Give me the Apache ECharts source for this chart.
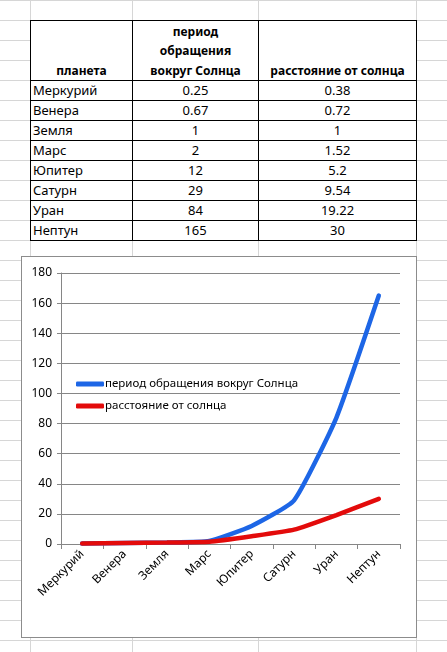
<!DOCTYPE html>
<html>
<head>
<meta charset="utf-8">
<script src="https://cdn.jsdelivr.net/npm/echarts@6/dist/echarts.min.js"></script>
<style>
  html, body { margin: 0; padding: 0; }
  body {
    width: 447px; height: 652px; position: relative; overflow: hidden;
    background-color: #fff;
    background-image: repeating-linear-gradient(to bottom, #d6d6d6 0, #d6d6d6 1px, transparent 1px, transparent 20px);
    font-family: "Noto Sans", sans-serif;
  }
  .vline { position: absolute; top: 0; width: 1px; height: 652px; background: #d6d6d6; }
  table {
    position: absolute; left: 30px; top: 20px;
    border-collapse: collapse; table-layout: fixed; background: #fff;
    font-size: 13px; color: #000;
  }
  td { border: 1px solid #000; padding: 0 2px; height: 19px; line-height: 15px; text-align: center; white-space: nowrap; }
  td.name { text-align: left; }
  thead td { font-weight: bold; font-size: 12px; height: 59px; line-height: 19.5px; vertical-align: bottom; padding-bottom: 0; }
  #chart {
    position: absolute; left: 21px; top: 256px; width: 396px; height: 382px;
    background: #fff; border: 1px solid #8c8c8c; box-sizing: border-box;
  }
</style>
</head>
<body>
<div class="vline" style="left:30px"></div>
<div class="vline" style="left:132px"></div>
<div class="vline" style="left:258px"></div>
<div class="vline" style="left:416px"></div>
<table id="tbl">
  <colgroup><col style="width:102px"><col style="width:126px"><col style="width:158px"></colgroup>
  <thead></thead>
  <tbody></tbody>
</table>
<div id="chart"></div>
<script>
  // данные
  let planets = ['Меркурий', 'Венера', 'Земля', 'Марс', 'Юпитер', 'Сатурн', 'Уран', 'Нептун'];
  let periodText = ['0.25', '0.67', '1', '2', '12', '29', '84', '165'];
  let distText = ['0.38', '0.72', '1', '1.52', '5.2', '9.54', '19.22', '30'];
  let period = [0.25, 0.67, 1, 2, 12, 29, 84, 165];
  let distance = [0.38, 0.72, 1, 1.52, 5.2, 9.54, 19.22, 30];
  let headers = ['планета', 'период<br>обращения<br>вокруг Солнца', 'расстояние от солнца'];
  let seriesNames = ['период обращения вокруг Солнца', 'расстояние от солнца'];

  // таблица
  let thead = document.querySelector('#tbl thead');
  thead.innerHTML = '<tr>' + headers.map(h => '<td>' + h + '</td>').join('') + '</tr>';
  let tbody = document.querySelector('#tbl tbody');
  let rows = '';
  for (let i = 0; i < planets.length; i++) {
    rows += '<tr><td class="name">' + planets[i] + '</td><td>' + periodText[i] + '</td><td>' + distText[i] + '</td></tr>';
  }
  tbody.innerHTML = rows;

  // график
  let myChart = echarts.init(document.getElementById('chart'));
  let font = '"Noto Sans", sans-serif';
  let option = {
    animation: false,
    grid: { left: 39, right: 16, top: 16, bottom: 93 },
    legend: {
      orient: 'vertical',
      left: 49,
      top: 116,
      icon: 'roundRect',
      itemWidth: 28,
      itemHeight: 5,
      itemGap: 10,
      textStyle: { fontFamily: font, fontSize: 11.5, color: '#000', padding: [0, 0, 0, -4] },
      data: seriesNames
    },
    xAxis: {
      type: 'category',
      data: planets,
      boundaryGap: true,
      axisLine: { lineStyle: { color: '#868686' } },
      axisTick: { show: true, length: 5, lineStyle: { color: '#868686' } },
      axisLabel: { rotate: 45, margin: 8, fontFamily: font, fontSize: 12, color: '#000', interval: 0 }
    },
    yAxis: {
      type: 'value',
      min: 0,
      max: 180,
      interval: 20,
      axisLine: { show: true, lineStyle: { color: '#868686' } },
      axisTick: { show: true, length: 4, lineStyle: { color: '#868686' } },
      axisLabel: { margin: 9, fontFamily: font, fontSize: 12, color: '#000' },
      splitLine: { lineStyle: { color: '#868686' } }
    },
    series: [
      {
        name: seriesNames[0],
        type: 'line',
        data: period,
        showSymbol: false,
        smooth: 0.15,
        lineStyle: { width: 4.5, color: '#1d66e6', cap: 'round' },
        itemStyle: { color: '#1d66e6' }
      },
      {
        name: seriesNames[1],
        type: 'line',
        data: distance,
        showSymbol: false,
        smooth: 0.15,
        lineStyle: { width: 4.5, color: '#e30b0b', cap: 'round' },
        itemStyle: { color: '#e30b0b' }
      }
    ]
  };
  myChart.setOption(option);
</script>
</body>
</html>
